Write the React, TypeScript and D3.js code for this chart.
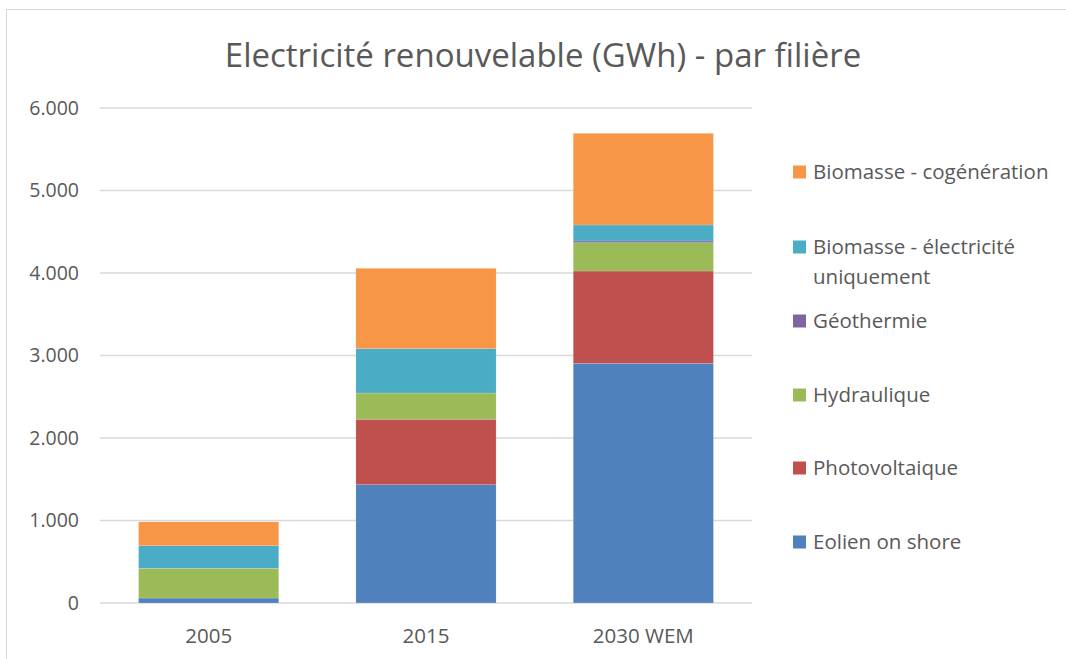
import React, { useEffect, useRef } from 'react';
import * as d3 from 'd3';

// categories and series (GWh)
const categories = ['2005', '2015', '2030 WEM'];
const seriesNames = [
  'Eolien on shore',
  'Photovoltaique',
  'Hydraulique',
  'Géothermie',
  'Biomasse - électricité uniquement',
  'Biomasse - cogénération',
];
const eolien = [60, 1434, 2905];
const photovoltaique = [0, 793, 1119];
const hydraulique = [360, 318, 344];
const geothermie = [0, 0, 20];
const biomasseElec = [274, 538, 194];
const biomasseCogen = [290, 974, 1111];
const colors = ['#4F81BD', '#C0504D', '#9BBB59', '#8064A2', '#4BACC6', '#F79646'];
const yTicks = [0, 1000, 2000, 3000, 4000, 5000, 6000];

const W = 1066;
const H = 659;
const FONT = '"Open Sans", sans-serif';

const App = () => {
  const svgRef = useRef<SVGSVGElement>(null);

  useEffect(() => {
    const svg = d3.select(svgRef.current);
    svg.selectAll('*').remove();

    const values = [eolien, photovoltaique, hydraulique, geothermie, biomasseElec, biomasseCogen];
    const rows = categories.map((c, i) => {
      const r: any = { cat: c };
      seriesNames.forEach((s, j) => (r[s] = values[j][i]));
      return r;
    });
    const stacked = d3.stack().keys(seriesNames)(rows);

    const left = 100, right = 752, top = 108, bottom = 603;

    const x = d3.scaleBand().domain(categories).range([left, right]).paddingInner(0.355).paddingOuter(0.1775);
    const y = d3.scaleLinear().domain([0, 6000]).range([bottom, top]);

    // outer border
    svg.append('rect')
      .attr('x', 6.5).attr('y', 9.5)
      .attr('width', W).attr('height', H)
      .attr('fill', 'none').attr('stroke', '#d9d9d9').attr('stroke-width', 1);

    // title
    svg.append('text')
      .attr('x', 543).attr('y', 67)
      .attr('text-anchor', 'middle')
      .style('font-family', FONT).style('font-size', '33px')
      .attr('fill', '#595959')
      .text('Electricité renouvelable (GWh) - par filière');

    // gridlines
    svg.append('g').selectAll('line').data(yTicks).enter().append('line')
      .attr('x1', left).attr('x2', right)
      .attr('y1', d => y(d)).attr('y2', d => y(d))
      .attr('stroke', '#d9d9d9').attr('stroke-width', 1.5);

    // y labels
    svg.append('g').selectAll('text').data(yTicks).enter().append('text')
      .attr('x', 79).attr('y', d => y(d))
      .attr('dy', '0.35em')
      .attr('text-anchor', 'end')
      .style('font-family', FONT).style('font-size', '19.5px')
      .attr('fill', '#595959')
      .text(d => d3.format(',')(d).replace(/,/g, '.'));

    // bars
    const groups = svg.append('g').selectAll('g').data(stacked).enter().append('g')
      .attr('fill', (d, i) => colors[i]);
    groups.selectAll('rect').data(d => d.map((v, i) => ({ v, cat: categories[i] }))).enter().append('rect')
      .attr('x', d => x(d.cat)!)
      .attr('width', x.bandwidth())
      .attr('y', d => y(d.v[1]))
      .attr('height', d => y(d.v[0]) - y(d.v[1]))
      .attr('stroke', 'rgba(255,255,255,0.3)').attr('stroke-width', 0.5);

    // x labels
    svg.append('g').selectAll('text').data(categories).enter().append('text')
      .attr('x', d => x(d)! + x.bandwidth() / 2).attr('y', 636)
      .attr('dy', '0.35em')
      .attr('text-anchor', 'middle')
      .style('font-family', FONT).style('font-size', '20.5px')
      .attr('fill', '#595959')
      .text(d => d);

    // legend, listed top to bottom in reverse stacking order
    const legendItems = [
      { lines: ['Biomasse - cogénération'], color: colors[5], y: 172 },
      { lines: ['Biomasse - électricité', 'uniquement'], color: colors[4], y: 247 },
      { lines: ['Géothermie'], color: colors[3], y: 321 },
      { lines: ['Hydraulique'], color: colors[2], y: 395 },
      { lines: ['Photovoltaique'], color: colors[1], y: 468 },
      { lines: ['Eolien on shore'], color: colors[0], y: 542 },
    ];
    const lg = svg.append('g').selectAll('g').data(legendItems).enter().append('g');
    lg.append('rect')
      .attr('x', 793).attr('y', d => d.y - 6.5)
      .attr('width', 13).attr('height', 13)
      .attr('fill', d => d.color);
    lg.each(function (d) {
      const t = d3.select(this).append('text')
        .style('font-family', FONT).style('font-size', '20.5px')
        .attr('fill', '#595959');
      d.lines.forEach((l, i) => {
        t.append('tspan').attr('x', 813).attr('y', d.y + i * 29.5).attr('dy', '0.35em').text(l);
      });
    });
  }, []);

  return (
    <svg ref={svgRef} width={W} height={H}
      style={{ position: 'absolute', left: 0, top: 0, background: '#fff' }} />
  );
};

export default App;
